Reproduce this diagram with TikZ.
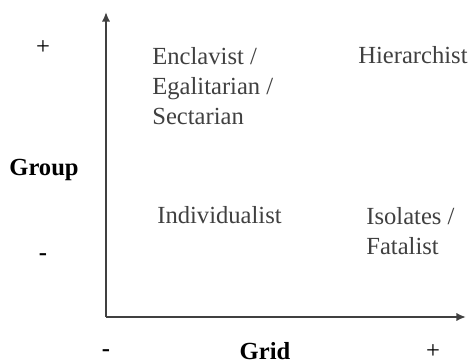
\documentclass[tikz,border=0pt]{standalone}
\usepackage{fontspec}
\setmainfont{Liberation Serif}
\usetikzlibrary{arrows.meta}
\definecolor{cinza}{HTML}{404040}
\begin{document}
\begin{tikzpicture}[x=0.02cm, y=0.02cm,
    eixo/.style={draw=cinza, line width=1.1pt, -{Latex[length=5.5pt,width=4.8pt]}},
    tipo/.style={inner sep=0pt, text=cinza, align=left, font=\fontsize{14}{17}\selectfont},
    sinal/.style={inner sep=0pt, font=\fontsize{14}{17}\selectfont},
    rotulo/.style={inner sep=0pt, font=\fontsize{14}{17}\selectfont\bfseries}]
    \useasboundingbox (0,0) rectangle (472,362);

    % Pontos dos eixos
    \coordinate (O) at (106,45);
    \coordinate (Y) at (106,350);
    \coordinate (X) at (466,45);

    % Eixos
    \draw[eixo] (O) -- (Y);
    \draw[eixo] (O) -- (X);

    % Nome dos eixos
    \node[rotulo, anchor=base] (group) at (44,187) {Group};
    \node[rotulo, anchor=base] (grid) at (265,3) {Grid};

    % Sinais
    \node[sinal] (gmais) at (43,314) {+};
    \node[rotulo] (gmenos) at (43,105) {-};
    \node[rotulo] (rmenos) at (106,9) {-};
    \node[sinal] (rmais) at (433,10) {+};

    % Quadrantes
    \node[tipo, anchor=north west] (enclave) at (152,315) {Enclavist /\\Egalitarian /\\Sectarian};
    \node[tipo, anchor=base west] (hier) at (358,298) {Hierarchist};
    \node[tipo, anchor=base west] (indiv) at (157,139) {Individualist};
    \node[tipo, anchor=north west] (isol) at (366,155) {Isolates /\\Fatalist};

\end{tikzpicture}
\end{document}
